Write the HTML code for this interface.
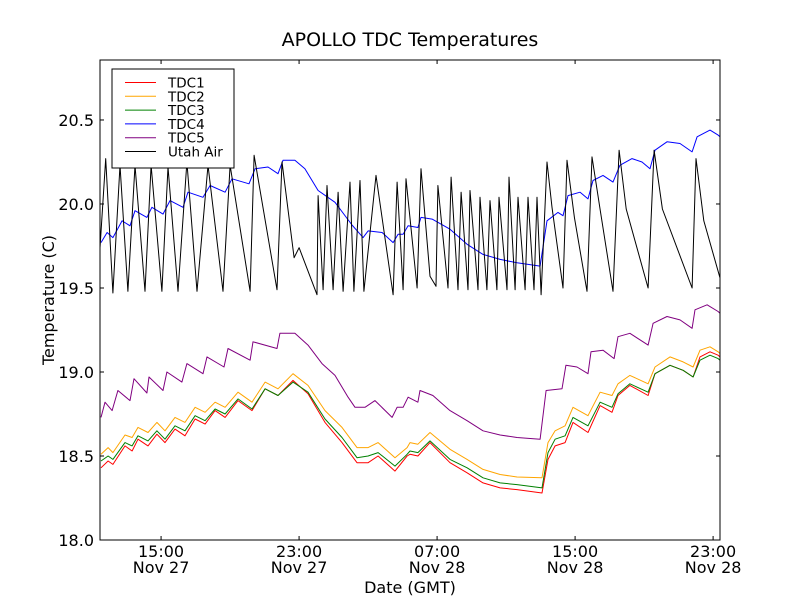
<!DOCTYPE html>
<html><head><meta charset="utf-8"><style>
body{margin:0;background:#fff}
svg text{font-family:"DejaVu Sans","Liberation Sans",sans-serif;fill:#000}
</style></head><body>
<svg id="chart" width="800" height="600" viewBox="0 0 800 600" xmlns="http://www.w3.org/2000/svg">
<rect width="800" height="600" fill="#fff"/>
<text x="410" y="46" font-size="19" text-anchor="middle">APOLLO TDC Temperatures</text>
<g id="series"></g>
<rect x="100" y="60" width="620" height="480" fill="none" stroke="#000" stroke-width="1"/>
<g id="axes"></g>
<text x="410" y="593" font-size="16" text-anchor="middle">Date (GMT)</text>
<text x="54" y="300" font-size="16" text-anchor="middle" transform="rotate(-90 54 300)">Temperature (C)</text>
<g id="legend"></g>
</svg>
<script>
// times: hours since Nov 27 11:28 GMT
const xTickPos=[3.54,11.54,19.54,27.54,35.54];
const xTickTime=["15:00","23:00","07:00","15:00","23:00"];
const xTickDate=["Nov 27","Nov 27","Nov 28","Nov 28","Nov 28"];
const yTicks=[18.0,18.5,19.0,19.5,20.0,20.5];
const seriesNames=["TDC1","TDC2","TDC3","TDC4","TDC5","Utah Air"];
const seriesColors=["#ff0000","#ffa500","#008000","#0000ff","#800080","#000000"];
const tdc1=[[0.06,18.43],[0.47,18.47],[0.75,18.45],[1.45,18.56],[1.86,18.53],[2.20,18.60],[2.78,18.56],[3.30,18.63],[3.77,18.58],[4.35,18.66],[4.93,18.62],[5.51,18.72],[6.09,18.69],[6.67,18.77],[7.25,18.73],[8.00,18.83],[8.81,18.77],[9.57,18.90],[10.32,18.86],[11.19,18.95],[12.06,18.87],[13.04,18.70],[14.03,18.58],[14.90,18.46],[15.54,18.46],[16.12,18.50],[17.10,18.41],[17.80,18.50],[17.97,18.51],[18.43,18.50],[19.13,18.58],[20.29,18.46],[21.28,18.40],[22.20,18.34],[23.19,18.31],[24.17,18.30],[25.62,18.28],[25.97,18.48],[26.38,18.56],[26.96,18.58],[27.42,18.70],[28.29,18.64],[28.99,18.80],[29.68,18.76],[30.03,18.86],[30.72,18.92],[31.77,18.86],[32.17,18.99],[33.04,19.04],[33.80,19.01],[34.38,18.97],[34.78,19.09],[35.36,19.12],[35.83,19.10],[35.94,19.09]];
const tdc2=[[0.06,18.51],[0.47,18.55],[0.75,18.52],[1.45,18.625],[1.86,18.61],[2.20,18.67],[2.78,18.64],[3.30,18.70],[3.77,18.65],[4.35,18.73],[4.93,18.70],[5.51,18.79],[6.09,18.76],[6.67,18.82],[7.25,18.79],[8.00,18.88],[8.81,18.82],[9.57,18.94],[10.32,18.90],[11.19,18.99],[12.06,18.92],[13.04,18.77],[14.03,18.67],[14.90,18.55],[15.54,18.55],[16.12,18.58],[17.10,18.49],[17.80,18.55],[17.97,18.58],[18.43,18.57],[19.13,18.64],[20.29,18.54],[21.28,18.48],[22.20,18.42],[23.19,18.39],[24.17,18.375],[25.62,18.37],[25.97,18.58],[26.38,18.65],[26.96,18.68],[27.42,18.79],[28.29,18.74],[28.99,18.88],[29.68,18.86],[30.03,18.93],[30.72,18.98],[31.77,18.93],[32.17,19.03],[33.04,19.09],[33.80,19.06],[34.38,19.03],[34.78,19.13],[35.36,19.15],[35.83,19.12],[35.94,19.11]];
const tdc3=[[0.06,18.47],[0.47,18.50],[0.75,18.48],[1.45,18.58],[1.86,18.56],[2.20,18.62],[2.78,18.59],[3.30,18.65],[3.77,18.60],[4.35,18.68],[4.93,18.65],[5.51,18.74],[6.09,18.71],[6.67,18.78],[7.25,18.75],[8.00,18.84],[8.81,18.78],[9.57,18.90],[10.32,18.86],[11.19,18.94],[12.06,18.88],[13.04,18.72],[14.03,18.61],[14.90,18.49],[15.54,18.50],[16.12,18.52],[17.10,18.44],[17.80,18.51],[17.97,18.53],[18.43,18.52],[19.13,18.59],[20.29,18.48],[21.28,18.43],[22.20,18.37],[23.19,18.34],[24.17,18.33],[25.62,18.31],[25.97,18.52],[26.38,18.60],[26.96,18.62],[27.42,18.73],[28.29,18.68],[28.99,18.82],[29.68,18.79],[30.03,18.87],[30.72,18.93],[31.77,18.88],[32.17,18.99],[33.04,19.04],[33.80,19.01],[34.38,18.97],[34.78,19.07],[35.36,19.10],[35.83,19.08],[35.94,19.07]];
const tdc4=[[0.06,19.77],[0.41,19.83],[0.75,19.80],[1.28,19.90],[1.74,19.87],[2.03,19.96],[2.72,19.92],[3.01,19.98],[3.65,19.94],[4.06,20.02],[4.81,19.98],[5.10,20.07],[5.97,20.04],[6.38,20.11],[7.25,20.07],[7.65,20.15],[8.64,20.12],[8.99,20.21],[9.74,20.22],[10.32,20.18],[10.61,20.26],[11.30,20.26],[11.88,20.21],[12.64,20.08],[13.62,20.01],[14.61,19.875],[15.25,19.80],[15.54,19.84],[16.35,19.83],[16.99,19.77],[17.28,19.82],[17.57,19.82],[17.86,19.87],[18.43,19.86],[18.61,19.92],[19.25,19.91],[20.29,19.85],[21.28,19.76],[22.20,19.70],[23.19,19.67],[24.17,19.65],[25.51,19.63],[25.91,19.90],[26.55,19.95],[26.84,19.93],[27.13,20.05],[27.83,20.07],[28.29,20.03],[28.58,20.14],[29.16,20.17],[29.74,20.13],[30.14,20.23],[30.84,20.27],[31.42,20.25],[31.88,20.21],[32.17,20.32],[32.87,20.37],[33.62,20.36],[34.32,20.31],[34.61,20.40],[35.36,20.44],[35.83,20.41],[35.94,20.40]];
const tdc5=[[0.06,18.73],[0.29,18.82],[0.70,18.77],[1.04,18.89],[1.74,18.83],[1.97,18.96],[2.72,18.875],[2.84,18.97],[3.65,18.89],[3.88,19.00],[4.75,18.94],[5.04,19.05],[5.97,18.99],[6.20,19.09],[7.19,19.03],[7.42,19.14],[8.70,19.07],[8.87,19.18],[10.26,19.14],[10.43,19.23],[11.30,19.23],[12.06,19.16],[12.87,19.05],[13.62,18.98],[14.38,18.85],[14.78,18.79],[15.36,18.79],[15.94,18.83],[16.93,18.73],[17.22,18.79],[17.57,18.79],[17.86,18.85],[18.43,18.82],[18.55,18.89],[19.30,18.86],[20.29,18.77],[21.28,18.71],[22.20,18.65],[23.19,18.625],[24.17,18.61],[25.51,18.60],[25.86,18.89],[26.78,18.90],[27.01,19.04],[27.65,19.03],[28.29,18.99],[28.46,19.12],[29.16,19.13],[29.80,19.08],[30.03,19.21],[30.72,19.23],[31.77,19.16],[32.06,19.29],[32.87,19.33],[33.62,19.31],[34.32,19.26],[34.49,19.37],[35.19,19.40],[35.83,19.36],[35.94,19.35]];
const utahAir=[[0.0,19.74],[0.33,20.27],[0.75,19.47],[1.16,20.23],[1.62,19.48],[2.03,20.23],[2.61,19.48],[2.96,20.23],[3.59,19.48],[3.94,20.22],[4.52,19.48],[5.04,20.25],[5.62,19.48],[6.26,20.23],[7.13,19.48],[7.54,20.23],[8.70,19.48],[8.93,20.29],[10.26,19.49],[10.55,20.25],[11.25,19.68],[11.54,19.74],[12.58,19.46],[12.64,20.05],[12.93,19.49],[13.16,20.11],[13.51,19.49],[13.80,20.07],[14.09,19.48],[14.49,20.13],[14.72,19.48],[15.07,20.14],[15.30,19.48],[16.0,20.17],[16.99,19.46],[17.22,20.13],[17.57,19.49],[17.74,20.15],[18.38,19.50],[18.61,20.21],[19.13,19.57],[19.48,19.51],[19.59,20.11],[20.17,19.50],[20.35,20.16],[20.75,19.49],[20.93,20.07],[21.33,19.49],[21.45,20.08],[21.91,19.49],[22.03,20.04],[22.43,19.49],[22.61,20.02],[23.01,19.49],[23.13,20.04],[23.59,19.49],[23.71,20.16],[24.06,19.49],[24.23,20.04],[24.64,19.49],[24.81,20.04],[25.16,19.49],[25.33,20.04],[25.57,19.46],[25.91,20.25],[26.2,19.98],[26.84,19.50],[27.07,20.26],[27.5,19.92],[28.23,19.48],[28.52,20.28],[29.0,19.96],[29.74,19.48],[30.09,20.32],[30.5,19.97],[31.77,19.50],[32.12,20.32],[32.6,19.97],[34.32,19.50],[34.55,20.27],[35.0,19.90],[35.94,19.56]];
const allSeries=[tdc1,tdc2,tdc3,tdc4,tdc5,utahAir];

const X0=100,X1=720,Y0=540,Y1=60,tMax=35.94,vMin=18.0,vMax=20.857;
function sx(t){return X0+(t/tMax)*(X1-X0);}
function sy(v){return Y0-(v-vMin)/(vMax-vMin)*(Y0-Y1);}
const NS="http://www.w3.org/2000/svg";
function mk(tag,attrs,parent){const e=document.createElementNS(NS,tag);for(const k in attrs)e.setAttribute(k,attrs[k]);parent.appendChild(e);return e;}

const sg=document.getElementById('series');
allSeries.forEach((s,i)=>{
  const d=s.map((p,j)=>(j?'L':'M')+sx(p[0]).toFixed(1)+' '+sy(p[1]).toFixed(1)).join(' ');
  const p=mk('path',{d:d,fill:'none',stroke:seriesColors[i],'stroke-width':'1','stroke-linejoin':'round'},sg);
  
  
});

const ax=document.getElementById('axes');
yTicks.forEach(v=>{
  const y=sy(v);
  mk('line',{x1:X0,y1:y,x2:X0+4,y2:y,stroke:'#000'},ax);
  mk('line',{x1:X1,y1:y,x2:X1-4,y2:y,stroke:'#000'},ax);
  const t=mk('text',{x:94,y:y+6,'font-size':'16','text-anchor':'end'},ax);
  t.textContent=v.toFixed(1);
  
  
});
xTickPos.forEach((tp,i)=>{
  const x=sx(tp);
  mk('line',{x1:x,y1:Y0,x2:x,y2:Y0-4,stroke:'#000'},ax);
  mk('line',{x1:x,y1:Y1,x2:x,y2:Y1+4,stroke:'#000'},ax);
  const t1=mk('text',{x:x,y:557,'font-size':'16','text-anchor':'middle'},ax);
  t1.textContent=xTickTime[i];
  
  
  const t2=mk('text',{x:x,y:573,'font-size':'16','text-anchor':'middle'},ax);
  t2.textContent=xTickDate[i];
  
  
});

const lg=document.getElementById('legend');
const box=mk('rect',{x:112,y:69,width:122,height:99,fill:'#fff',stroke:'#000'},lg);


seriesNames.forEach((n,i)=>{
  const y=82.5+i*13.8;
  const g=mk('g',{},lg);
  
  
  mk('line',{x1:125,y1:y,x2:156,y2:y,stroke:seriesColors[i],'stroke-width':'1'},g);
  const t=mk('text',{x:168,y:y+5,'font-size':'13.5'},g);
  t.textContent=n;
});
</script>
</body></html>
